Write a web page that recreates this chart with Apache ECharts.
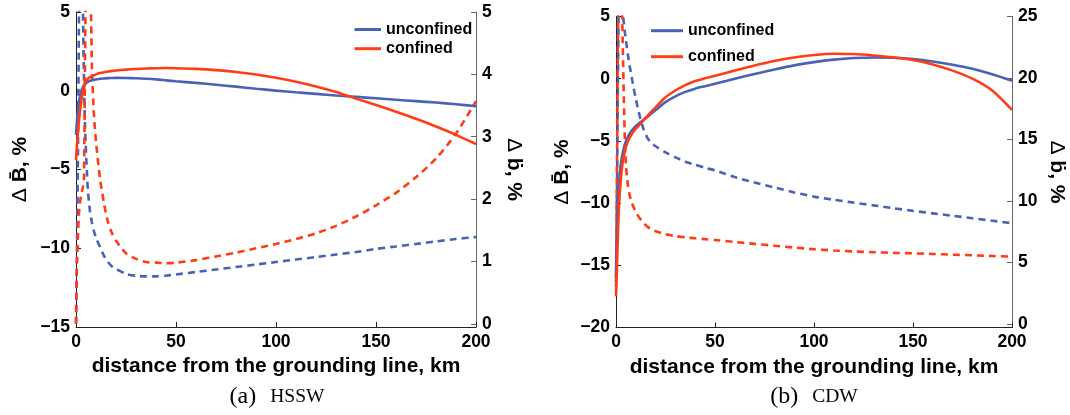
<!DOCTYPE html>
<html><head><meta charset="utf-8">
<script src="https://cdn.jsdelivr.net/npm/echarts@6/dist/echarts.min.js"></script>
<style>html,body{margin:0;padding:0;background:#fff}#c{width:1070px;height:415px}</style>
</head><body><div id="c"></div>
<script>
// distance from the grounding line, km
const distance = [0,0.5,1,1.5,2,2.5,3,3.5,4,4.5, 5,5.5,6,7,8,9,10,12,14,16, 18,20,25,30,35,40,45,50,60,70, 80,90,100,110,120,130,140,150,160,170, 180,190,200];

// (a) HSSW : ΔB̄ (%) on the left axis, Δḃ (%) on the right axis
const hsswUnconfinedB = [-2.8,-1.9,-1.2,-0.7,-0.35,-0.08,0.12,0.25,0.35,0.42, 0.48,0.53,0.57,0.63,0.67,0.7,0.72,0.76,0.78,0.8, 0.81,0.82,0.81,0.79,0.76,0.72,0.66,0.6,0.5,0.38, 0.26,0.13,0.01,-0.1,-0.2,-0.3,-0.39,-0.48,-0.57,-0.66, -0.75,-0.86,-0.98];
const hsswConfinedB = [-4.4,-3.4,-2.6,-1.9,-1.3,-0.8,-0.35,0.0,0.28,0.47, 0.6,0.7,0.78,0.86,0.92,0.99,1.04,1.12,1.18,1.22, 1.26,1.29,1.34,1.38,1.41,1.43,1.44,1.43,1.39,1.31, 1.19,1.03,0.82,0.57,0.27,-0.08,-0.5,-0.9,-1.33,-1.78, -2.27,-2.8,-3.38];
const hsswUnconfinedRate = [0,1.2,2.8,5.0,6.8,7.2,6.8,5.0,3.9,3.2, 2.75,2.4,2.12,1.8,1.62,1.48,1.38,1.23,1.09,0.99, 0.92,0.88,0.8,0.77,0.76,0.76,0.77,0.79,0.83,0.87, 0.91,0.95,0.99,1.03,1.07,1.11,1.15,1.2,1.24,1.28, 1.32,1.36,1.39];
const hsswConfinedRate = [0,1.0,1.45,1.78,1.95,2.05,2.13,2.2,2.35,4.2, 5.8,6.8,7.0,6.0,4.1,3.33,2.92,2.33,1.93,1.63, 1.45,1.33,1.13,1.04,0.99,0.98,0.97,0.98,1.02,1.08, 1.14,1.21,1.28,1.36,1.45,1.57,1.72,1.9,2.1,2.35, 2.65,3.05,3.57];

// (b) CDW
const cdwUnconfinedB = [-16,-12.5,-10,-8.5,-7.5,-6.8,-6.3,-5.9,-5.55,-5.28, -5.05,-4.85,-4.68,-4.4,-4.17,-3.97,-3.8,-3.55,-3.3,-3.05, -2.78,-2.52,-1.88,-1.42,-1.06,-0.8,-0.6,-0.4,0.0,0.38, 0.74,1.07,1.33,1.53,1.66,1.71,1.68,1.57,1.38,1.12, 0.8,0.35,-0.17];
const cdwConfinedB = [-17.5,-15,-12.3,-10.3,-9.0,-8.0,-7.2,-6.6,-6.15,-5.8, -5.5,-5.25,-5.05,-4.72,-4.45,-4.22,-4.02,-3.68,-3.33,-2.97, -2.62,-2.3,-1.5,-0.95,-0.52,-0.18,0.03,0.23,0.65,1.06, 1.42,1.7,1.9,2.0,1.98,1.87,1.72,1.5,1.15,0.65, 0.0,-0.95,-2.5];
const cdwUnconfinedRate = [3.0,11,20,28,32,31,27,25.2,24.4,23.7, 23.1,22.5,21.9,20.9,20.0,19.1,18.3,16.9,15.8,15.1, 14.7,14.45,13.95,13.55,13.2,12.95,12.7,12.5,11.95,11.5, 11.1,10.7,10.36,10.1,9.87,9.65,9.42,9.2,9.0,8.8, 8.6,8.4,8.2];
const cdwConfinedRate = [3.5,13,24,30,31,29,26,22,18,14.8, 13.0,12.0,11.3,10.4,9.85,9.45,9.1,8.6,8.2,7.9, 7.7,7.55,7.3,7.15,7.05,6.97,6.9,6.83,6.67,6.52, 6.37,6.22,6.08,5.98,5.9,5.84,5.79,5.75,5.7,5.64, 5.59,5.53,5.48];

// axis ranges [min, max] and tick values
const xRange = [0, 200];
const xTicks = [0, 50, 100, 150, 200];
const hsswLeftRange = [-15, 5];
const hsswLeftTicks = [-15, -10, -5, 0, 5];
const hsswRightRange = [-0.052, 5];
const hsswRightTicks = [0, 1, 2, 3, 4, 5];
const cdwLeftRange = [-20, 5];
const cdwLeftTicks = [-20, -15, -10, -5, 0, 5];
const cdwRightRange = [-0.28, 25];
const cdwRightTicks = [0, 5, 10, 15, 20, 25];
const legendNames = ['unconfined', 'confined'];
const captions = [['(a)', 'HSSW'], ['(b)', 'CDW']];
const xTitle = 'distance from the grounding line, km';

const BLUE = '#4862b6';
const RED = '#ff3c14';
const SANS = '"Liberation Sans", Arial, Helvetica, sans-serif';
const SERIF = '"Liberation Serif", "Times New Roman", serif';
const pairs = arr => distance.map((d, i) => [d, arr[i]]);
const minus = v => String(v).replace('-', '\u2212');

const labelStyle = {fontFamily: SANS, fontWeight: 'bold', fontSize: 17.5, color: '#000'};

function xAxis(grid) {
  return {
    type: 'value', gridIndex: grid, min: xRange[0], max: xRange[1],
    axisLine: {show: true, onZero: false, lineStyle: {color: '#222', width: 1}},
    axisTick: {show: true, inside: true, length: 5, customValues: xTicks, lineStyle: {color: '#222'}},
    axisLabel: Object.assign({margin: 6, formatter: minus, customValues: xTicks}, labelStyle),
    splitLine: {show: false},
    name: xTitle, nameLocation: 'middle', nameGap: 29,
    nameTextStyle: {fontFamily: SANS, fontWeight: 'bold', fontSize: 21, color: '#000'}
  };
}
function yAxis(grid, pos, range, ticks, name, rot, gap) {
  const c = pos === 'left' ? '#222' : '#666';
  return {
    type: 'value', gridIndex: grid, position: pos, min: range[0], max: range[1],
    axisLine: {show: true, onZero: false, lineStyle: {color: c, width: 1}},
    axisTick: {show: true, inside: true, length: 5, customValues: ticks, lineStyle: {color: c}},
    axisLabel: Object.assign({margin: 6, formatter: minus, customValues: ticks}, labelStyle),
    splitLine: {show: false},
    name: name, nameLocation: 'middle', nameRotate: rot, nameGap: gap,
    nameTextStyle: {
      fontFamily: SANS, fontWeight: 'bold', fontSize: 21, color: '#000',
      rich: {d: {fontFamily: SANS, fontWeight: 'normal', fontSize: 21, color: '#000'},
             b: {fontFamily: SANS, fontWeight: 'bold', fontSize: 21, color: '#000'}}
    }
  };
}
function line(name, xi, yi, arr, color, dashed) {
  return {
    type: 'line', name: name, xAxisIndex: xi, yAxisIndex: yi, data: pairs(arr),
    showSymbol: false, smooth: 0.25, clip: true, silent: true,
    lineStyle: {color: color, width: 2.6, type: dashed ? [7, 5] : 'solid'},
    itemStyle: {color: color}, z: dashed ? 2 : 3
  };
}
function legend(left, top, w, gap) {
  return {
    data: legendNames, orient: 'vertical', left: left, top: top, icon: 'rect', padding: 0,
    itemWidth: w, itemHeight: 3, itemGap: gap, selectedMode: false,
    textStyle: {fontFamily: SANS, fontWeight: 'bold', fontSize: 16, color: '#000'}
  };
}
function caption(cx, c) {
  return {
    type: 'text', x: cx, y: 397,
    style: {
      text: '{p|' + c[0] + '}{s|' + c[1] + '}', textAlign: 'center', textVerticalAlign: 'middle',
      rich: {p: {fontFamily: SERIF, fontSize: 24, fill: '#000'},
             s: {fontFamily: SERIF, fontSize: 19.5, fill: '#000', padding: [0, 0, 0, 14]}}
    }
  };
}

const yNameLeft = '{d|\u0394} {b|B\u0304, %}';
const yNameRight = '{d|\u0394} {b|\u1E03, %}';

const chart = echarts.init(document.getElementById('c'), null, {renderer: 'canvas'});
chart.setOption({
  animation: false,
  backgroundColor: '#fff',
  grid: [
    {left: 76, top: 12, width: 400, height: 315},
    {left: 616, top: 16.5, width: 396, height: 311}
  ],
  xAxis: [xAxis(0), xAxis(1)],
  yAxis: [
    yAxis(0, 'left', hsswLeftRange, hsswLeftTicks, yNameLeft, 90, 45),
    yAxis(0, 'right', hsswRightRange, hsswRightTicks, yNameRight, -90, 27),
    yAxis(1, 'left', cdwLeftRange, cdwLeftTicks, yNameLeft, 90, 43),
    yAxis(1, 'right', cdwRightRange, cdwRightTicks, yNameRight, -90, 34)
  ],
  legend: [legend(354.5, 21.5, 26.5, 3.2), legend(651, 22.7, 32, 10)],
  graphic: [caption(277, captions[0]), caption(814, captions[1])],
  series: [
    line('unconfined rate', 0, 1, hsswUnconfinedRate, BLUE, true),
    line('confined rate', 0, 1, hsswConfinedRate, RED, true),
    line('unconfined', 0, 0, hsswUnconfinedB, BLUE, false),
    line('confined', 0, 0, hsswConfinedB, RED, false),
    line('unconfined rate', 1, 3, cdwUnconfinedRate, BLUE, true),
    line('confined rate', 1, 3, cdwConfinedRate, RED, true),
    line('unconfined', 1, 2, cdwUnconfinedB, BLUE, false),
    line('confined', 1, 2, cdwConfinedB, RED, false)
  ]
});
</script></body></html>
